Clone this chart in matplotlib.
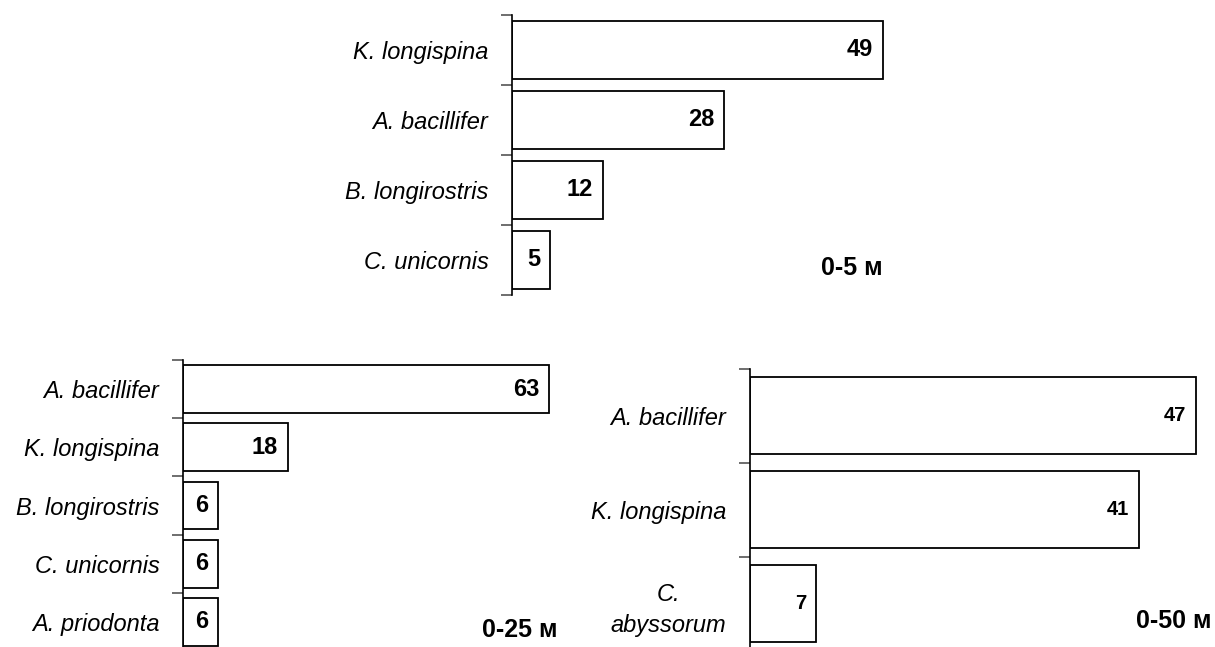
import matplotlib.pyplot as plt
import numpy as np

plt.rcParams['font.family'] = ['Liberation Sans', 'DejaVu Sans']

# 0-5 m
sp_5 = ['K. longispina', 'A. bacillifer', 'B. longirostris', 'C. unicornis']
val_5 = [49, 28, 12, 5]
# 0-25 m
sp_25 = ['A. bacillifer', 'K. longispina', 'B. longirostris', 'C. unicornis', 'A. priodonta']
val_25 = [63, 18, 6, 6, 6]
# 0-50 m
sp_50 = ['A. bacillifer', 'K. longispina', 'C.\nabyssorum']
val_50 = [47, 41, 7]

W, H = 1215, 647
fig = plt.figure(figsize=(W / 100, H / 100), dpi=100)


def px_axes(left, top, right, bottom):
    return fig.add_axes([left / W, 1 - bottom / H, (right - left) / W, (bottom - top) / H])


def panel(ax, names, vals, xmax, vsize, region, rx, ry):
    n = len(names)
    y = np.arange(n)
    bars = ax.barh(y, vals, height=0.82, color='white', edgecolor='black', linewidth=1.3)
    ax.set_xlim(0, xmax)
    ax.set_ylim(n - 0.5, -0.5)
    for s in ['top', 'right', 'bottom']:
        ax.spines[s].set_visible(False)
    ax.spines['left'].set_linewidth(1.2)
    ax.set_xticks([])
    ax.set_yticks(y)
    ax.set_yticklabels(names, fontsize=17, style='italic', multialignment='center',
                       linespacing=1.45)
    ax.tick_params(axis='y', which='major', length=0, pad=17)
    ax.set_yticks(np.arange(n + 1) - 0.5, minor=True)
    ax.tick_params(axis='y', which='minor', length=8, width=1.2, color='#555555')
    for b, v in zip(bars, vals):
        ax.annotate(str(v), (b.get_width(), b.get_y() + b.get_height() / 2),
                    xytext=(-7, 0), textcoords='offset points', ha='right', va='center',
                    fontsize=vsize, fontweight='bold')
    fig.text(rx / W, 1 - ry / H, region, ha='right', va='center', fontsize=18, fontweight='bold')


ax1 = px_axes(512, 15, 512 + 60 * 7.57, 295)
panel(ax1, sp_5, val_5, 60, 17, '0-5 м', 883, 268)

ax2 = px_axes(183, 360, 183 + 70 * 5.81, 651)
panel(ax2, sp_25, val_25, 70, 17, '0-25 м', 557, 630)

ax3 = px_axes(750, 369, 750 + 49 * 9.49, 650.5)
panel(ax3, sp_50, val_50, 49, 14.5, '0-50 м', 1212, 621)

fig.savefig('out.png', dpi=100)
